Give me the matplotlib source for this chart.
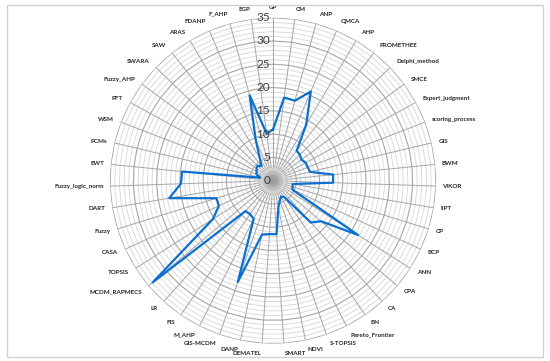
import numpy as np
import matplotlib.pyplot as plt
from matplotlib.patches import Rectangle

# categories clockwise starting at the top
categories = ['GP', 'CM', 'ANP', 'QMCA', 'AHP', 'PROMETHEE', 'Delphi_method', 'SMCE',
              'Expert_judgment', 'scoring_process', 'GIS', 'BWM', 'VIKOR', 'IIPT', 'CP',
              'BCP', 'ANN', 'CPA', 'CA', 'BN', 'Pareto_Frontier', 'S-TOPSIS', 'NDVI',
              'SMART', 'DEMATEL', 'DANP', 'GIS-MCDM', 'M_AHP', 'FIS', 'LR', 'MCDM_RAPMECS',
              'TOPSIS', 'CASA', 'Fuzzy', 'DART', 'Fuzzy_logic_norm', 'EWT', 'PCMs', 'WSM',
              'PFT', 'Fuzzy_AHP', 'SWARA', 'SAW', 'ARAS', 'FDANP', 'F_AHP', 'EGP']
values = [11.0, 18.0, 17.8, 20.8, 14.0, 8.2, 8.0, 7.6,
          8.0, 8.0, 8.2, 13.0, 12.9, 4.3, 4.4,
          4.6, 21.7, 13.5, 12.1, 4.3, 3.8, 4.5, 5.8,
          11.5, 11.5, 11.8, 23.0, 9.2, 8.7, 8.8, 33.8,
          15.3, 12.8, 12.7, 22.6, 19.8, 19.6, 2.8, 3.8,
          4.0, 4.4, 4.6, 4.0, 5.5, 9.5, 19.0, 10.2]
ring_ticks = [0, 5, 10, 15, 20, 25, 30, 35]
r_max = 35

n = len(categories)
theta = np.linspace(0, 2 * np.pi, n, endpoint=False)
closed = np.append(theta, theta[0])

fig = plt.figure(figsize=(5.5, 3.61), dpi=100)
fig.patches.append(Rectangle((0.012, 0.012), 0.976, 0.974, transform=fig.transFigure,
                             fill=False, edgecolor='#d0d0d0', lw=1))

ax = fig.add_axes([0.2, 0.048, 0.5927, 0.903], projection='polar')
ax.set_theta_zero_location('N')
ax.set_theta_direction(-1)
ax.set_ylim(0, r_max)
ax.grid(False)
ax.set_xticks([])
ax.set_yticks([])
ax.spines['polar'].set_visible(False)
ax.patch.set_alpha(0)

# gridlines: minor every 1, major every 5
for r in range(1, r_max + 1):
    major = r % 5 == 0
    ax.plot(closed, [r] * (n + 1), color='#a6a6a6' if major else '#d6d6d6',
            lw=0.8 if major else 0.6, zorder=1)
for t in theta:
    ax.plot([t, t], [0, r_max], color='#a6a6a6', lw=0.7, zorder=1)

# grey hub where the spokes meet
ring = np.linspace(0, 2 * np.pi, 100)
for rad, col in [(2.8, '#d2d2d2'), (2.1, '#bdbdbd'), (1.4, '#a9a9a9'), (0.8, '#9c9c9c')]:
    ax.fill(ring, [rad] * 100, color=col, lw=0, zorder=2)

# data line
ax.plot(closed, values + [values[0]], color='#0a6fd0', lw=1.6, zorder=3)

# radial tick labels along the top spoke
for v in ring_ticks:
    ax.annotate(str(v), xy=(0, v), xytext=(-2, 0), textcoords='offset points',
                ha='right', va='center', fontsize=8.5, color='#404040',
                family='Lato', zorder=4, annotation_clip=False)

# category labels around the outside
for t, name in zip(theta, categories):
    s, c = np.sin(t), np.cos(t)
    ha = 'left' if s > 0.01 else ('right' if s < -0.01 else 'center')
    off = 4.5 + 2.5 * abs(c)
    ax.annotate(name, xy=(t, r_max), xytext=(off * s, off * c), textcoords='offset points',
                ha=ha, va='center', fontsize=4.5, fontweight='bold', color='#262626',
                family='Lato', annotation_clip=False)

fig.savefig('out.png', dpi=100)
